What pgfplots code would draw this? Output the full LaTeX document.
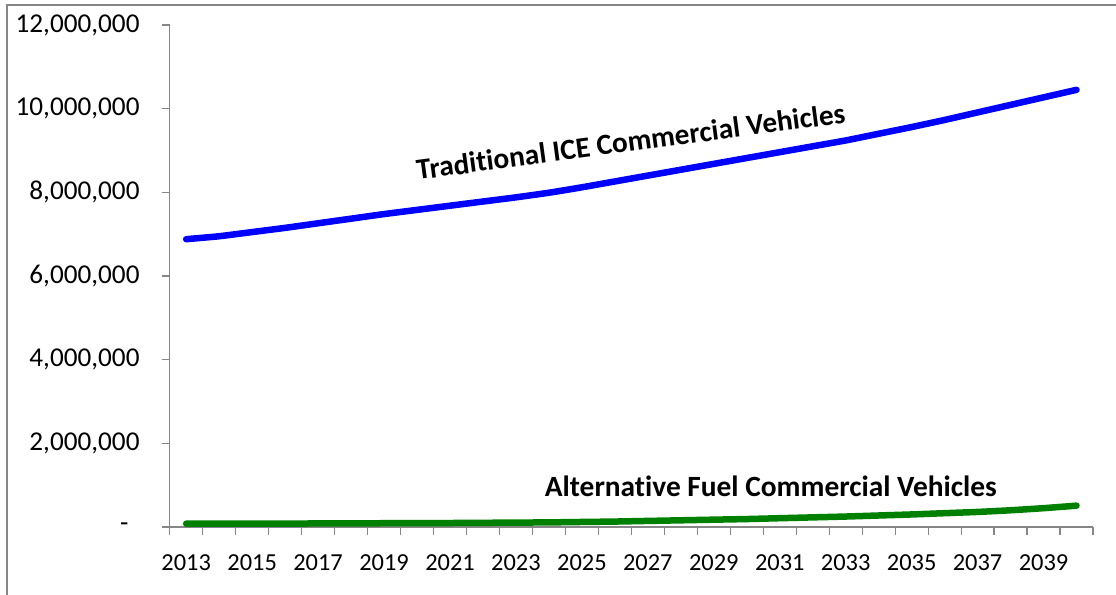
\documentclass[border=0pt]{standalone}
\usepackage{pgfplots}
\pgfplotsset{compat=1.18}
\usepackage{fontspec}
\setmainfont{Carlito}[RawFeature={-liga;-calt;-clig;-dlig}]
\definecolor{axisgray}{RGB}{134,134,134}
\definecolor{iceblue}{RGB}{0,0,255}
\definecolor{altgreen}{RGB}{0,128,0}
\begin{document}
\begin{tikzpicture}[x=1bp,y=1bp]
\useasboundingbox (0,0) rectangle (1116,595);
\clip (0,0) rectangle (1116,595);
\fill[white] (0,0) rectangle (1116,595);
\draw[axisgray, line width=2bp] (7,-10) -- (7,590) -- (1130,590);
\begin{axis}[
  at={(169.7bp,68bp)}, anchor=origin,
  scale only axis, width=923.3bp, height=502bp,
  xmin=2012.5, xmax=2040.5, ymin=0, ymax=12000000,
  axis x line*=bottom, axis y line*=left,
  axis line style={axisgray, line width=1.5bp},
  tick style={axisgray, line width=1.2bp},
  tick align=outside, major tick length=8bp,
  xtick={2012.5,2013.5,...,2040.5},
  xticklabels={2013,,2015,,2017,,2019,,2021,,2023,,2025,,2027,,2029,,2031,,2033,,2035,,2037,,2039,,},
  xticklabel style={font=\fontsize{24.5}{28}\selectfont, text=black, anchor=north, inner sep=0pt, xshift=16.49bp, yshift=-19bp},
  ytick={0,2000000,4000000,6000000,8000000,10000000,12000000},
  yticklabels={{-\hspace*{11bp}},{2,000,000},{4,000,000},{6,000,000},{8,000,000},{10,000,000},{12,000,000}},
  yticklabel style={font=\fontsize{27.3}{31}\selectfont, text=black, anchor=east, inner sep=0pt, xshift=-22bp},
  scaled y ticks=false,
  clip=false,
]
\addplot[iceblue, line width=6.5bp, line cap=round, line join=round, smooth, tension=0.3] coordinates {
(2013,6880000) (2014,6950000) (2015,7050000) (2016,7150000) (2017,7260000)
(2018,7370000) (2019,7480000) (2020,7580000) (2021,7680000) (2022,7780000)
(2023,7880000) (2024,7990000) (2025,8120000) (2026,8260000) (2027,8400000)
(2028,8540000) (2029,8680000) (2030,8820000) (2031,8960000) (2032,9100000)
(2033,9240000) (2034,9400000) (2035,9560000) (2036,9730000) (2037,9910000)
(2038,10090000) (2039,10270000) (2040,10450000)};
\addplot[altgreen, line width=6.5bp, line cap=round, line join=round, smooth, tension=0.3] coordinates {
(2013,80000) (2014,80000) (2015,80000) (2016,80000) (2017,85000)
(2018,85000) (2019,90000) (2020,90000) (2021,95000) (2022,100000)
(2023,105000) (2024,110000) (2025,120000) (2026,130000) (2027,145000)
(2028,160000) (2029,175000) (2030,190000) (2031,210000) (2032,230000)
(2033,250000) (2034,275000) (2035,300000) (2036,330000) (2037,360000)
(2038,400000) (2039,450000) (2040,510000)};
\node[anchor=base west, rotate=7.6, inner sep=0pt, font=\bfseries\fontsize{29.4}{33}\selectfont]
  at (axis cs:2020.02,8295000) {Tradit\kern0pt ional ICE Commercial Vehicles};
\node[anchor=base west, inner sep=0pt, font=\bfseries\fontsize{29.5}{33}\selectfont]
  at (axis cs:2023.87,740000) {Alternat\kern0pt ive Fuel Commercial Vehicles};
\end{axis}
\end{tikzpicture}
\end{document}
